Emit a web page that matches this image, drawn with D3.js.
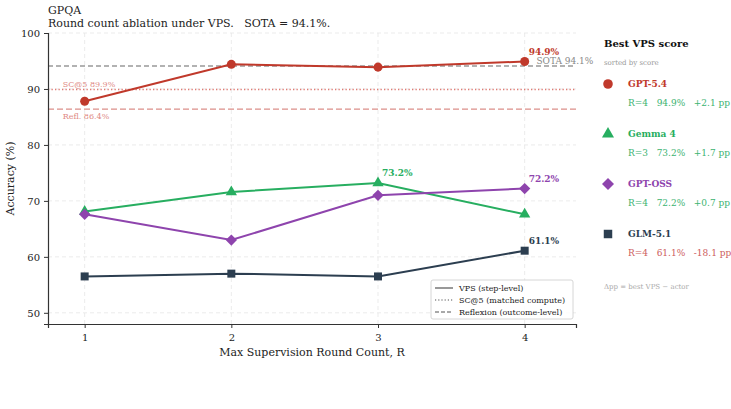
<!DOCTYPE html>
<html>
<head>
<meta charset="utf-8">
<script src="https://cdn.jsdelivr.net/npm/d3@7"></script>
<style>
  body { margin: 0; background: #fff; }
  svg text { font-family: "DejaVu Serif", serif; }
</style>
</head>
<body>
<div id="chart"></div>
<script>
// data
const rounds = [1, 2, 3, 4];
const models = ["GPT-5.4", "Gemma 4", "GPT-OSS", "GLM-5.1"];
const gpt54 = [87.8, 94.4, 93.9, 94.9];
const gemma4 = [68.1, 71.6, 73.2, 67.6];
const gptoss = [67.6, 63.0, 71.0, 72.2];
const glm51 = [56.5, 57.0, 56.5, 61.1];
const sota = 94.1;
const sc5 = 89.9;
const reflexion = 86.4;
const deltas = [2.1, 1.7, 0.7, -18.1];
const yTicks = [50, 60, 70, 80, 90, 100];

const colors = ["#c0392b", "#27ae60", "#8e44ad", "#2c3e50"];
const symbols = [d3.symbolCircle, d3.symbolTriangle, d3.symbolSquare, d3.symbolSquare];
const symSizes = [64, 55, 64, 64];
const symRot = [0, 0, 45, 0];
const series = [gpt54, gemma4, gptoss, glm51];

const width = 731, height = 409;
const margin = { left: 48, right: 155, top: 33, bottom: 85 };

const svg = d3.select("#chart").append("svg")
  .attr("width", width).attr("height", height);

const x = d3.scaleLinear().domain([0.75, 4.35]).range([margin.left, width - margin.right]);
const y = d3.scaleLinear().domain([48, 100]).range([height - margin.bottom, margin.top]);
const y0 = y(48);

// grid
svg.append("g").selectAll("line").data(rounds).enter().append("line")
  .attr("x1", d => x(d)).attr("x2", d => x(d))
  .attr("y1", y(100)).attr("y2", y0)
  .attr("stroke", "#e6e6e6").attr("stroke-dasharray", "4,3").attr("stroke-width", 0.8);
svg.append("g").selectAll("line").data(yTicks).enter().append("line")
  .attr("x1", x(0.75)).attr("x2", x(4.35))
  .attr("y1", d => y(d)).attr("y2", d => y(d))
  .attr("stroke", "#e6e6e6").attr("stroke-dasharray", "4,3").attr("stroke-width", 0.8);

// reference lines
const refs = [
  { v: sota, color: "#999", dash: "5,3", label: "SOTA 94.1%", lx: x(4.08), dy: -2.5, fs: "9px", tc: "#888" },
  { v: sc5, color: "#e07b74", dash: "1.3,2.2", label: "SC@5 89.9%", lx: x(0.85), dy: -3, fs: "8px", tc: "#e08a84" },
  { v: reflexion, color: "#dc8f89", dash: "6,3", label: "Refl. 86.4%", lx: x(0.85), dy: 10, fs: "8px", tc: "#e08a84" }
];
refs.forEach(r => {
  svg.append("line")
    .attr("x1", x(0.75)).attr("x2", x(4.35))
    .attr("y1", y(r.v)).attr("y2", y(r.v))
    .attr("stroke", r.color).attr("stroke-width", 1.3)
    .attr("stroke-dasharray", r.dash);
  svg.append("text")
    .attr("x", r.lx).attr("y", y(r.v) + r.dy)
    .style("font-size", r.fs)
    .style("fill", r.tc)
    .text(r.label);
});

// axes
const xAxis = svg.append("g")
  .attr("transform", `translate(0,${y0})`)
  .call(d3.axisBottom(x).tickValues(rounds).tickFormat(d3.format("d")).tickSize(4).tickPadding(6));
const yAxis = svg.append("g")
  .attr("transform", `translate(${margin.left},0)`)
  .call(d3.axisLeft(y).tickValues(yTicks).tickSize(4).tickPadding(4));
[xAxis, yAxis].forEach(a => {
  a.select(".domain").attr("stroke", "#333").attr("stroke-width", 1.2);
  a.selectAll(".tick line").attr("stroke", "#333");
  a.selectAll("text").style("font-size", "10px").style("font-family", "DejaVu Serif").attr("fill", "#222");
});

svg.append("text")
  .attr("x", (x(0.75) + x(4.35)) / 2).attr("y", y0 + 32)
  .attr("text-anchor", "middle").style("font-size", "11px").attr("fill", "#222")
  .text("Max Supervision Round Count, R");
svg.append("text")
  .attr("transform", `translate(14,${(y(100) + y0) / 2}) rotate(-90)`)
  .attr("text-anchor", "middle").style("font-size", "11px").attr("fill", "#222")
  .text("Accuracy (%)");

// titles
svg.append("text").attr("x", 48).attr("y", 14).style("font-size", "11px").attr("fill", "#222").text("GPQA");
svg.append("text").attr("x", 48).attr("y", 27).style("font-size", "11px").attr("fill", "#222")
  .attr("xml:space", "preserve")
  .text("Round count ablation under VPS.   SOTA = 94.1%.");

// series
const line = d3.line().x((d, i) => x(rounds[i])).y(d => y(d));
series.forEach((s, k) => {
  svg.append("path").datum(s)
    .attr("d", line).attr("fill", "none")
    .attr("stroke", colors[k]).attr("stroke-width", 2);
  svg.append("g").selectAll("path").data(s).enter().append("path")
    .attr("transform", (d, i) => `translate(${x(rounds[i])},${y(d)}) rotate(${symRot[k]})`)
    .attr("d", d3.symbol().type(symbols[k]).size(symSizes[k]))
    .attr("fill", colors[k]);
  const best = d3.maxIndex(s);
  svg.append("text")
    .attr("x", x(rounds[best]) + 4).attr("y", y(s[best]) - 6.5)
    .style("font-size", "9px").style("font-weight", "bold")
    .attr("fill", colors[k])
    .text(s[best].toFixed(1) + "%");
});

// legend box
const lg = svg.append("g").attr("transform", "translate(431,280)");
lg.append("rect").attr("width", 142).attr("height", 39).attr("rx", 2)
  .attr("fill", "#fff").attr("fill-opacity", 0.85).attr("stroke", "#ccc").attr("stroke-width", 0.8);
const legItems = [
  { label: "VPS (step-level)", dash: null },
  { label: "SC@5 (matched compute)", dash: "1.2,2" },
  { label: "Reflexion (outcome-level)", dash: "4,2" }
];
legItems.forEach((d, i) => {
  const gy = 8 + i * 12;
  lg.append("line").attr("x1", 4).attr("x2", 22).attr("y1", gy).attr("y2", gy)
    .attr("stroke", "#555").attr("stroke-width", 1.2).attr("stroke-dasharray", d.dash);
  lg.append("text").attr("x", 28).attr("y", gy + 3).style("font-size", "8px").attr("fill", "#222").text(d.label);
});

// side panel
const panel = svg.append("g").attr("transform", "translate(604,0)");
panel.append("text").attr("x", 0).attr("y", 47).style("font-size", "10px").style("font-weight", "bold")
  .attr("fill", "#111").text("Best VPS score");
panel.append("text").attr("x", 0).attr("y", 65).style("font-size", "7px").attr("fill", "#999").text("sorted by score");
models.forEach((m, k) => {
  const s = series[k];
  const best = d3.maxIndex(s);
  const top = 84 + k * 50;
  panel.append("path")
    .attr("transform", `translate(4,${top}) rotate(${symRot[k]})`)
    .attr("d", d3.symbol().type(symbols[k]).size(symSizes[k] + 8))
    .attr("fill", colors[k]);
  panel.append("text").attr("x", 24).attr("y", top + 3).style("font-size", "9px").style("font-weight", "bold")
    .attr("fill", colors[k]).text(m);
  const dcol = deltas[k] >= 0 ? "#3cb371" : "#cd5c5c";
  panel.append("text").attr("x", 24).attr("y", top + 22).style("font-size", "9px")
    .attr("xml:space", "preserve")
    .attr("fill", dcol)
    .text(`R=${rounds[best]}   ${s[best].toFixed(1)}%   ${deltas[k] >= 0 ? "+" : ""}${deltas[k].toFixed(1)} pp`);
});
panel.append("text").attr("x", 0).attr("y", 289).style("font-size", "7px").attr("fill", "#aaa")
  .text("Δpp = best VPS − actor");
</script>
</body>
</html>
